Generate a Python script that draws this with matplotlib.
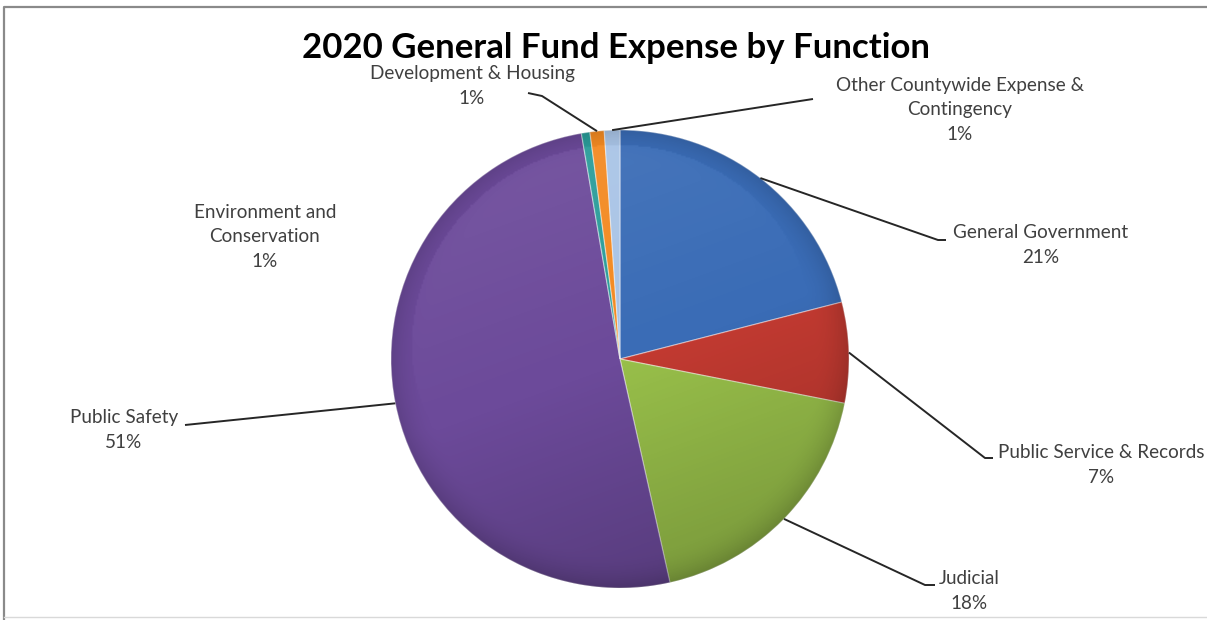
import numpy as np
import matplotlib.pyplot as plt
from matplotlib.patches import Circle

plt.rcParams['font.family'] = ['Lato', 'DejaVu Sans']

# 2020 general fund expense, share by function (percent)
categories = ['General Government', 'Public Service & Records', 'Judicial',
              'Public Safety', 'Environment and\nConservation',
              'Development & Housing', 'Other Countywide Expense &\nContingency']
shares = [21.0, 7.1, 18.4, 50.8, 0.6, 1.0, 1.1]
colors = ['#3a6cb6', '#c23a31', '#98bf4a', '#6c4a9a', '#2a9d9a', '#f38a22', '#a9c4e6']

# label block centres and leader elbows, in pixels from the top-left
label_pos = [(1041, 245), (1101, 465), (969, 591), (124, 430),
             (265, 237), (472, 86), (960, 110)]
elbows = [[(938, 240), (946, 240)],
          [(985, 458), (993, 458)],
          [(925, 585), (935, 585)],
          [(185, 425)],
          None,
          [(542, 96), (528, 93)],
          [(800, 101), (813, 99)]]

W, H = 1207, 620
fig = plt.figure(figsize=(W / 100, H / 100), dpi=100)
ax = fig.add_axes([0, 0, 1, 1])

cx, cy, r = 620, H - 359, 229
wedges, _ = ax.pie(shares, colors=colors, startangle=90, counterclock=False,
                   center=(cx, cy), radius=r,
                   wedgeprops=dict(edgecolor=(1, 1, 1, 0.4), linewidth=0.9))
ax.set_aspect('equal')
ax.axis('off')

# soft shading over the disc: lighter towards the top, darker bottom and rim
n = 300
gx, gy = np.meshgrid(np.linspace(-1, 1, n), np.linspace(1, -1, n))
rr = np.sqrt(gx ** 2 + gy ** 2)
s = np.clip(0.55 * (-gy) + 0.2 * gx, -1, 1)
rim = np.clip((rr - 0.85) / 0.15, 0, 1) ** 2
shade = np.zeros((n, n, 4))
dark = np.clip(s, 0, None) * 0.32 + rim * 0.12
light = np.clip(-s, 0, None) * 0.12 * (1 - rim)
shade[..., :3] = np.where((dark > light)[..., None], 0.0, 1.0)
shade[..., 3] = np.maximum(dark, light)
img = ax.imshow(shade, extent=(cx - r, cx + r, cy - r, cy + r), zorder=3,
                interpolation='bilinear')
img.set_clip_path(Circle((cx, cy), r, transform=ax.transData))
ax.set_xlim(0, W)
ax.set_ylim(0, H)

# data labels with leader lines
for w, name, val, (lx, ly), elb in zip(wedges, categories, shares, label_pos, elbows):
    mid = np.deg2rad((w.theta1 + w.theta2) / 2)
    if elb:
        xs = [cx + r * np.cos(mid)] + [p[0] for p in elb]
        ys = [cy + r * np.sin(mid)] + [H - p[1] for p in elb]
        ax.plot(xs, ys, color='#262626', lw=1.4, zorder=4,
                solid_capstyle='butt')
    ax.text(lx, H - ly, f'{name}\n{round(val)}%', ha='center', va='center',
            fontsize=13.6, color='#404040', linespacing=1.55, zorder=5)

ax.text(616, H - 48, '2020 General Fund Expense by Function', ha='center',
        va='center', fontsize=25, fontweight='bold', color='black')

# chart-area border
ax.plot([3.5, 3.5, W + 5], [-5, H - 6.5, H - 6.5], color='#8a8a8a', lw=1.6,
        clip_on=False)
ax.plot([3.5, W], [3, 3], color='#d9d9d9', lw=1)

fig.savefig('out.png', dpi=100)
